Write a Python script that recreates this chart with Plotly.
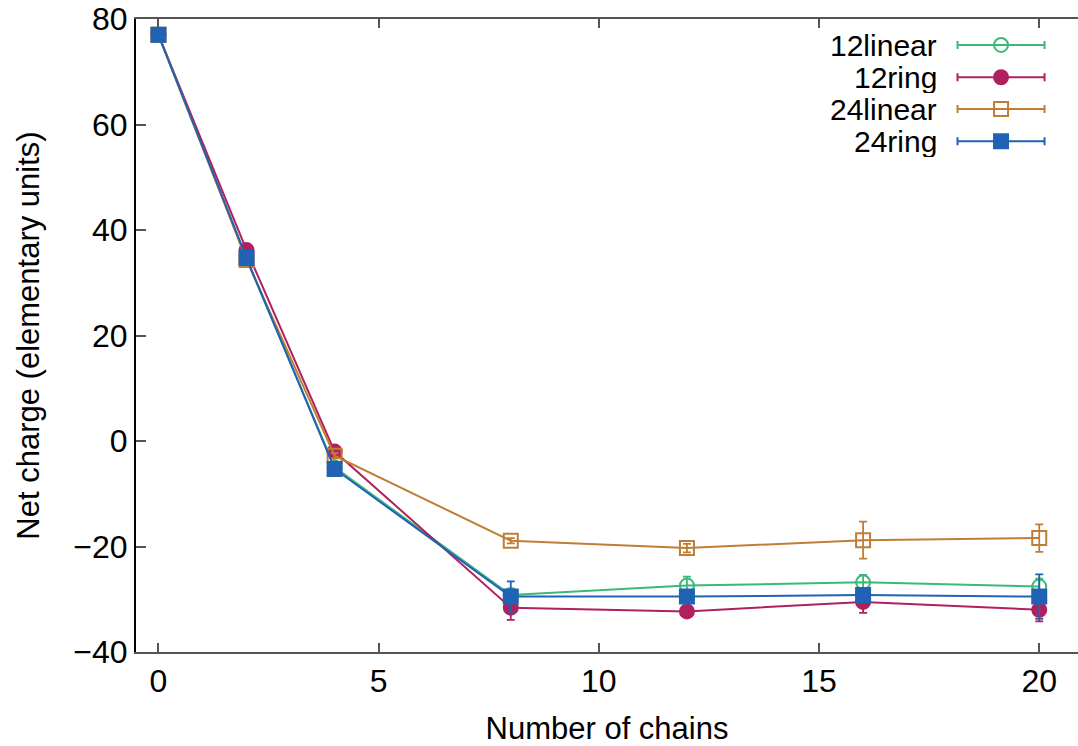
import plotly.graph_objects as go

chains = [0, 2, 4, 8, 12, 16, 20]
names = ["12linear", "12ring", "24linear", "24ring"]
lin12 = [77.0, 34.5, -5.0, -29.2, -27.4, -26.8, -27.6]
ring12 = [77.0, 36.2, -2.0, -31.6, -32.3, -30.5, -32.0]
lin24 = [77.0, 34.3, -2.8, -18.9, -20.3, -18.8, -18.4]
ring24 = [77.0, 34.7, -5.3, -29.5, -29.5, -29.2, -29.5]
err12lin = [0.3, 0.5, 0.5, 0.8, 1.7, 1.4, 1.5]
err12ring = [0.3, 0.5, 0.5, 2.3, 0.5, 2.1, 2.2]
err24lin = [0.3, 0.5, 0.5, 0.5, 0.8, 3.5, 2.6]
err24ring = [0.3, 0.5, 0.5, 2.9, 0.5, 0.8, 4.2]

colors = ["#3cb878", "#b0205f", "#c07d36", "#2062b4"]
symbols = ["circle-open", "circle", "square-open", "square"]
series = [lin12, ring12, lin24, ring24]
errors = [err12lin, err12ring, err24lin, err24ring]

FONT = "Liberation Sans, Arial, sans-serif"
fig = go.Figure()

for nm, ys, es, c, s in zip(names, series, errors, colors, symbols):
    fig.add_trace(go.Scatter(
        x=chains, y=ys, name=nm, mode="lines+markers",
        line=dict(color=c, width=2),
        marker=dict(symbol=s, size=14, color=c, line=dict(color=c, width=2)),
        error_y=dict(type="data", array=es, visible=True, color=c, thickness=1.8, width=4),
        showlegend=False,
    ))

# custom legend (text left of sample, as in reference)
leg_rows = [0.959, 0.908, 0.858, 0.807]
leg_cx = 0.9183
leg_half = 0.0462
for nm, c, s, ry in zip(names, colors, symbols, leg_rows):
    fig.add_trace(go.Scatter(
        x=[leg_cx], y=[ry], xaxis="x2", yaxis="y2", mode="markers",
        marker=dict(symbol=s, size=14, color=c, line=dict(color=c, width=2)),
        error_x=dict(type="constant", value=leg_half, visible=True, color=c, thickness=2, width=4),
        showlegend=False, hoverinfo="skip",
    ))
    fig.add_annotation(x=0.8514, y=ry, xref="paper", yref="paper", text=nm,
                       showarrow=False, xanchor="right", yanchor="middle",
                       height=32, borderpad=0,
                       font=dict(family=FONT, size=30, color="black"))

fig.update_layout(
    width=1078, height=746,
    margin=dict(l=136, r=0, t=19, b=94),
    plot_bgcolor="white", paper_bgcolor="white",
    font=dict(family=FONT, size=31, color="black"),
    xaxis=dict(
        range=[-0.51, 20.88], tickvals=[0, 5, 10, 15, 20],
        showgrid=False, zeroline=False, showline=True, linecolor="#555555", linewidth=1.5,
        mirror="ticks", ticks="inside", ticklen=9, tickcolor="#555555", tickwidth=1.5,
        title=dict(text="Number of chains", font=dict(size=31), standoff=20),
        tickfont=dict(size=32),
    ),
    yaxis=dict(
        range=[-40, 80], tickvals=[-40, -20, 0, 20, 40, 60, 80],
        showgrid=False, zeroline=False, showline=True, linecolor="black", linewidth=2,
        mirror=False, ticks="inside", ticklen=10, tickcolor="#555555", tickwidth=1.5,
        title=dict(text="Net charge (elementary units)", font=dict(size=31), standoff=24),
        tickfont=dict(size=32),
    ),
    xaxis2=dict(overlaying="x", anchor="y2", range=[0, 1], visible=False),
    yaxis2=dict(overlaying="y", anchor="x2", range=[0, 1], visible=False),
)

fig.write_html("out.html")
